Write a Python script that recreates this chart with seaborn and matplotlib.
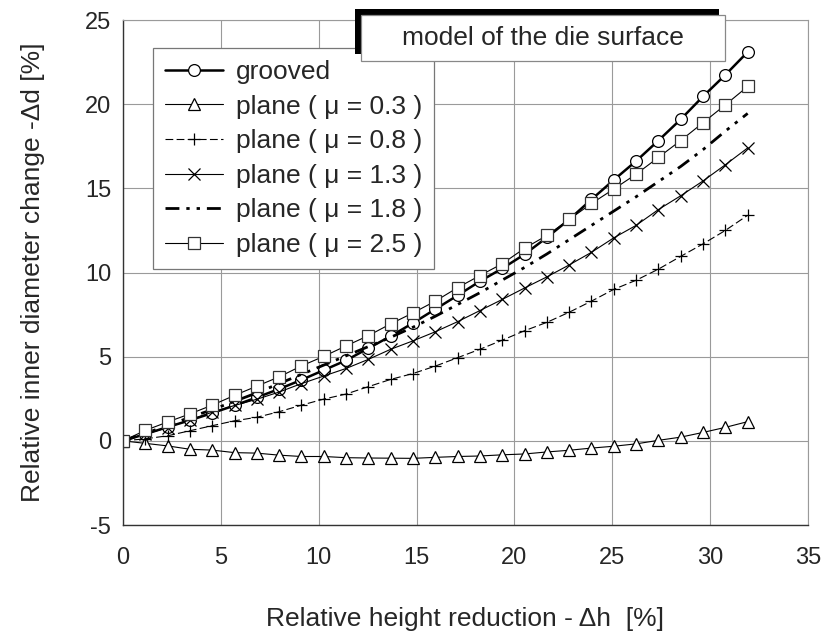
import seaborn as sns
import matplotlib.pyplot as plt
from matplotlib.patches import Rectangle

# Relative height reduction [%] (same for every curve)
reduction = [0.0, 1.14, 2.28, 3.42, 4.56, 5.70, 6.84, 7.98, 9.12, 10.26,
             11.40, 12.54, 13.68, 14.82, 15.96, 17.10, 18.24, 19.38, 20.52, 21.66,
             22.80, 23.94, 25.08, 26.22, 27.36, 28.50, 29.64, 30.78, 31.92]

# Relative inner diameter change [%]
grooved = [0.0, 0.40, 0.82, 1.22, 1.65, 2.10, 2.58, 3.08, 3.62, 4.20,
           4.78, 5.50, 6.22, 7.00, 7.82, 8.64, 9.48, 10.24, 11.08, 12.08,
           13.15, 14.34, 15.50, 16.62, 17.84, 19.10, 20.46, 21.74, 23.10]
plane_03 = [0.0, -0.15, -0.30, -0.50, -0.55, -0.70, -0.73, -0.85, -0.93, -0.93,
            -1.00, -1.02, -1.03, -1.04, -0.98, -0.93, -0.90, -0.83, -0.78, -0.66,
            -0.56, -0.43, -0.32, -0.18, 0.03, 0.22, 0.50, 0.80, 1.14]
plane_08 = [0.0, 0.12, 0.30, 0.60, 0.90, 1.19, 1.40, 1.73, 2.12, 2.48,
            2.78, 3.22, 3.65, 4.00, 4.44, 4.94, 5.44, 5.98, 6.54, 7.04,
            7.64, 8.30, 9.00, 9.54, 10.20, 10.96, 11.70, 12.50, 13.40]
plane_13 = [0.0, 0.40, 0.78, 1.25, 1.70, 2.10, 2.47, 2.90, 3.40, 3.85,
            4.30, 4.84, 5.44, 5.94, 6.48, 7.08, 7.74, 8.40, 9.08, 9.74,
            10.45, 11.20, 12.06, 12.80, 13.74, 14.56, 15.44, 16.40, 17.40]
plane_18 = [0.0, 0.45, 0.90, 1.40, 1.85, 2.35, 2.85, 3.40, 3.95, 4.50,
            5.05, 5.60, 6.15, 6.75, 7.40, 8.10, 8.80, 9.55, 10.30, 11.10,
            11.95, 12.80, 13.65, 14.50, 15.40, 16.30, 17.30, 18.40, 19.45]
plane_25 = [0.0, 0.62, 1.12, 1.60, 2.12, 2.70, 3.25, 3.80, 4.45, 5.02,
            5.64, 6.25, 6.95, 7.60, 8.30, 9.10, 9.82, 10.52, 11.44, 12.20,
            13.15, 14.10, 14.96, 15.84, 16.84, 17.84, 18.90, 19.96, 21.05]

x_ticks = [0, 5, 10, 15, 20, 25, 30, 35]
y_ticks = [-5, 0, 5, 10, 15, 20, 25]

sns.set_style("white")
plt.rcParams['font.family'] = ['Liberation Sans', 'DejaVu Sans']
plt.rcParams['axes.unicode_minus'] = False

fig = plt.figure(figsize=(8.22, 6.33), dpi=100)
ax = fig.add_axes([0.1496, 0.1706, 0.8333, 0.7978])

mk = dict(markerfacecolor="white", markeredgecolor="black", markeredgewidth=0.9)

sns.lineplot(x=reduction, y=grooved, ax=ax, color="black", lw=1.8,
             marker="o", markersize=8.5, label="grooved", **mk)
sns.lineplot(x=reduction, y=plane_03, ax=ax, color="black", lw=0.8,
             marker="^", markersize=8.5, label="plane ( μ = 0.3 )", **mk)
sns.lineplot(x=reduction, y=plane_08, ax=ax, color="black", lw=0.8,
             linestyle=(0, (7, 3)), marker="+", markersize=9,
             label="plane ( μ = 0.8 )", markeredgecolor="black", markeredgewidth=0.9)
sns.lineplot(x=reduction, y=plane_13, ax=ax, color="black", lw=0.8,
             marker="x", markersize=9, label="plane ( μ = 1.3 )",
             markeredgecolor="black", markeredgewidth=0.9)
sns.lineplot(x=reduction, y=plane_18, ax=ax, color="black", lw=2.0,
             linestyle=(0, (5, 2.5, 1.2, 2.5, 1.2, 2.5)), label="plane ( μ = 1.8 )")
sns.lineplot(x=reduction, y=plane_25, ax=ax, color="black", lw=0.8,
             marker="s", markersize=8.5, label="plane ( μ = 2.5 )",
             markerfacecolor="white", markeredgecolor="#333333", markeredgewidth=0.9)

ax.set_xlim(0, 35)
ax.set_ylim(-5, 25)
ax.set_xticks(x_ticks)
ax.set_yticks(y_ticks)
ax.tick_params(labelsize=17, length=5, width=0.8, color="#444444", direction="out")
ax.tick_params(axis="x", pad=11)
ax.grid(True, color="#9a9a9a", lw=0.8)
for side in ["top", "right"]:
    ax.spines[side].set_color("#9a9a9a")
    ax.spines[side].set_linewidth(0.8)
for side in ["left", "bottom"]:
    ax.spines[side].set_color("#333333")
    ax.spines[side].set_linewidth(1.0)

ax.set_xlabel("Relative height reduction - Δh  [%]", fontsize=19)
ax.set_ylabel("Relative inner diameter change -Δd [%]", fontsize=19)
ax.xaxis.set_label_coords(0.5, -0.163)
ax.yaxis.set_label_coords(-0.114, 0.5)

leg = ax.legend(loc="upper left", bbox_to_anchor=(0.044, 0.944), fontsize=19,
                frameon=True, fancybox=False, framealpha=1, edgecolor="#777777",
                handlelength=2.2, handletextpad=0.5, labelspacing=0.4,
                borderpad=0.45, borderaxespad=0)
leg.get_frame().set_linewidth(0.9)

# header box with a dark shadow on the top/left
fig.add_artist(Rectangle((355 / 822, 1 - 54 / 633), 364 / 822, 45 / 633,
                         transform=fig.transFigure, facecolor="black",
                         edgecolor="none", zorder=5))
fig.add_artist(Rectangle((361 / 822, 1 - 61 / 633), 364 / 822, 46 / 633,
                         transform=fig.transFigure, facecolor="white",
                         edgecolor="#888888", lw=0.9, zorder=6))
fig.text(543 / 822, 1 - 38 / 633, "model of the die surface", fontsize=19,
         ha="center", va="center", zorder=7)

fig.savefig("out.png", dpi=100)
